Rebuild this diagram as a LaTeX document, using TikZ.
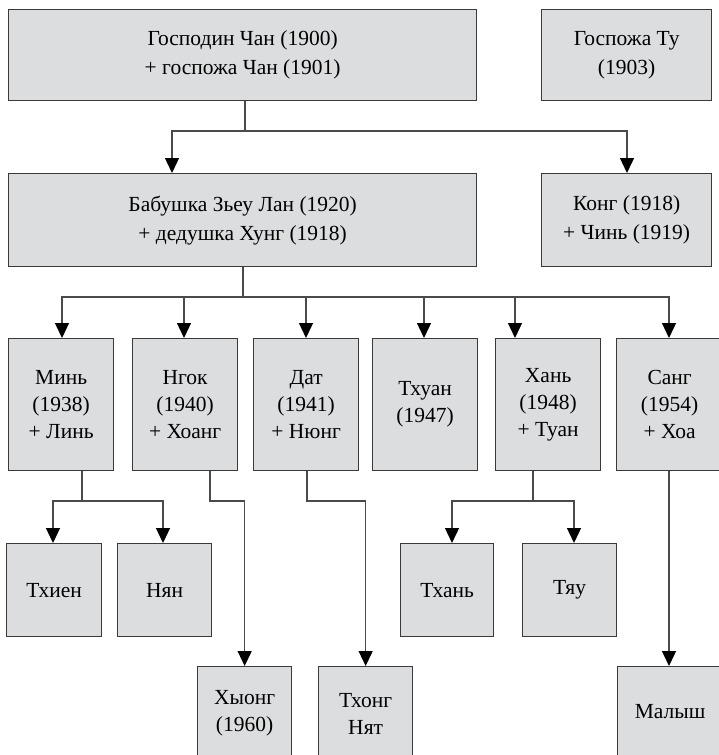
\documentclass[tikz,border=0pt]{standalone}
\usepackage{fontspec}
\setmainfont{Liberation Serif}
\newfontfamily\treefont{Liberation Serif}
\usetikzlibrary{arrows.meta}
\definecolor{boxfill}{HTML}{DCDDDF}
\definecolor{boxline}{HTML}{3A3A3A}
\definecolor{linkline}{HTML}{4A4A4A}
\tikzset{
  person/.style={draw=boxline, fill=boxfill, line width=1.3pt, align=center,
    inner sep=0pt, font=\treefont\fontsize{21.5}{27}\selectfont, anchor=north west},
  wideperson/.style={person, font=\treefont\fontsize{21.5}{29}\selectfont},
  plainlink/.style={draw=linkline, line width=1.3pt},
  link/.style={plainlink, -{Triangle[width=14pt,length=15pt,color=black,fill=black]}},
}
\begin{document}
\begin{tikzpicture}[x=1pt,y=-1pt]
\useasboundingbox (0,0) rectangle (719,755);
\clip (0,0) rectangle (719,755);
% row 1
\node[wideperson, minimum width=468pt, minimum height=91pt] (A) at (8,9) {Господин Чан (1900)\\+ госпожа Чан (1901)};
\node[wideperson, minimum width=170pt, minimum height=91pt] (B) at (541,9) {Госпожа Ту\\(1903)};
% row 2
\node[wideperson, minimum width=468pt, minimum height=93pt] (C) at (8,173) {Бабушка Зьеу Лан (1920)\\+ дедушка Хунг (1918)};
\node[wideperson, minimum width=170pt, minimum height=93pt] (D) at (541,173) {Конг (1918)\\+ Чинь (1919)};
% row 3
\node[person, minimum width=105pt, minimum height=132pt] (m1) at (8,338) {Минь\\(1938)\\+ Линь};
\node[person, minimum width=105pt, minimum height=132pt] (m2) at (132,338) {Нгок\\(1940)\\+ Хоанг};
\node[person, minimum width=105pt, minimum height=132pt] (m3) at (253,338) {Дат\\(1941)\\+ Нюнг};
\node[person, minimum width=105pt, minimum height=132pt] (m4) at (372,338) {Тхуан\\(1947)};
\node[person, minimum width=105pt, minimum height=132pt] (m5) at (495,338) {Хань\\(1948)\\+ Туан};
\node[person, minimum width=106pt, minimum height=132pt] (m6) at (616,338) {Санг\\(1954)\\+ Хоа};
% row 4
\node[person, minimum width=95pt, minimum height=93pt] (c1) at (6,543) {Тхиен};
\node[person, minimum width=94pt, minimum height=93pt] (c2) at (117,543) {Нян};
\node[person, minimum width=93pt, minimum height=93pt] (c3) at (400,543) {Тхань};
\node[person, minimum width=94pt, minimum height=93pt] (c4) at (522,543) {Тяу};
% row 5
\node[person, minimum width=94pt, minimum height=94pt] (g1) at (197,666) {Хыонг\\(1960)};
\node[person, minimum width=94pt, minimum height=94pt] (g2) at (318,666) {Тхонг\\Нят};
\node[person, minimum width=105pt, minimum height=90pt] (g3) at (617,666) {Малыш};
% junctions and arrow positions
\coordinate (jA) at (245,131);
\coordinate (xC) at (172,0);
\coordinate (xD) at (627,0);
\coordinate (jC) at (243,297);
\coordinate (x1) at (62,0);
\coordinate (x2) at (184,0);
\coordinate (x3) at (306,0);
\coordinate (x4) at (424,0);
\coordinate (x5) at (515,0);
\coordinate (x6) at (669,0);
\coordinate (jM) at (82,501);
\coordinate (y1) at (53,0);
\coordinate (y2) at (163,0);
\coordinate (jN) at (210,501);
\coordinate (jD) at (307,501);
\coordinate (jH) at (533,501);
\coordinate (y3) at (452,0);
\coordinate (y4) at (574,0);
% connectors
\draw[plainlink] (A.south -| jA) -- (jA);
\draw[link] (jA) -| (xC |- C.north);
\draw[link] (jA) -| (xD |- D.north);
\draw[plainlink] (C.south -| jC) -- (jC);
\draw[link] (jC) -| (x1 |- m1.north);
\draw[link] (jC) -| (x2 |- m2.north);
\draw[link] (jC) -| (x3 |- m3.north);
\draw[link] (jC) -| (x4 |- m4.north);
\draw[link] (jC) -| (x5 |- m5.north);
\draw[link] (jC) -| (x6 |- m6.north);
\draw[plainlink] (m1.south -| jM) -- (jM);
\draw[link] (jM) -| (y1 |- c1.north);
\draw[link] (jM) -| (y2 |- c2.north);
\draw[link] (m2.south -| jN) -- (jN) -| (g1.north);
\draw[link] (m3.south -| jD) -- (jD) -| (g2.north);
\draw[plainlink] (m5.south -| jH) -- (jH);
\draw[link] (jH) -| (y3 |- c3.north);
\draw[link] (jH) -| (y4 |- c4.north);
\draw[link] (m6.south -| x6) -- (x6 |- g3.north);
\end{tikzpicture}
\end{document}
